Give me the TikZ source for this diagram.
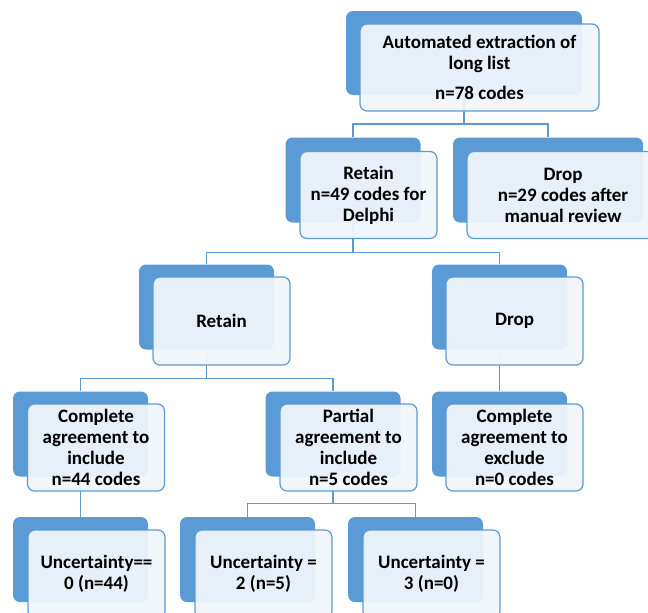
\documentclass[tikz,border=0pt]{standalone}
\usepackage{fontspec}
\setmainfont{Carlito}
\usetikzlibrary{backgrounds}
\definecolor{boxblue}{RGB}{91,155,213}
\definecolor{boxpale}{RGB}{240,245,251}

\begin{document}
\begin{tikzpicture}[x=1pt,y=-1pt,
        back/.style={fill=boxblue,rounded corners=7pt,minimum width=135pt,minimum height=85pt,inner sep=0pt},
        front/.style={draw=boxblue,line width=1.2pt,fill=boxpale,fill opacity=0.94,text opacity=1,rounded corners=7pt,
            minimum width=137pt,minimum height=87pt,inner sep=0pt,align=center,font=\fontsize{19}{21}\selectfont\bfseries},
        link/.style={draw=boxblue,line width=1.5pt}]
        \useasboundingbox (0,0) rectangle (648,613);

        \node[back,minimum width=236pt,minimum height=84pt] (b1) at (464,53) {};
        \node[front,minimum width=239pt] (v1) at (479.5,67.5) {Automated extraction of\\long list\\[9pt]n=78 codes};

        \node[back] (b2) at (353,180) {};
        \node[front] (v2) at (368.5,195) {Retain\\n=49 codes for\\Delphi};
        \node[back,minimum width=190pt] (b3) at (548,180) {};
        \node[front,minimum width=192pt] (v3) at (563,195) {Drop\\n=29 codes after\\manual review};

        \node[back] (b4) at (206.5,307) {};
        \node[front,minimum height=88pt] (v4) at (221.5,321) {Retain};
        \node[back] (b5) at (499.5,307) {};
        \node[front,minimum height=88pt] (v5) at (514.5,321) {Drop};

        \node[back] (b6) at (80.5,434) {};
        \node[front] (v6) at (96,447.5) {Complete\\agreement to\\include\\n=44 codes};
        \node[back] (b7) at (333,434) {};
        \node[front] (v7) at (348.5,447.5) {Partial\\agreement to\\include\\n=5 codes};
        \node[back] (b8) at (499.5,434) {};
        \node[front] (v8) at (514.5,447.5) {Complete\\agreement to\\exclude\\n=0 codes};

        \node[back] (b9) at (80.5,559.5) {};
        \node[front,minimum height=88pt] (v9) at (96.5,574) {Uncertainty==\\0 (n=44)};
        \node[back] (b10) at (247.5,559.5) {};
        \node[front,minimum height=88pt] (v10) at (263.5,574) {Uncertainty =\\2 (n=5)};
        \node[back] (b11) at (415.5,559.5) {};
        \node[front,minimum height=88pt] (v11) at (431.5,574) {Uncertainty =\\3 (n=0)};

        \begin{pgfonlayer}{background}
            \draw[link] (b1.south) -- ++(0,29) -| (b2.north);
            \draw[link] (b1.south) -- ++(0,29) -| (b3.north);
            \draw[link] (b2.south) -- ++(0,30) -| (b4.north);
            \draw[link] (b2.south) -- ++(0,30) -| (b5.north);
            \draw[link] (b4.south) -- ++(0,29) -| (b6.north);
            \draw[link] (b4.south) -- ++(0,29) -| (b7.north);
            \draw[link] (b5.south) -- (b8.north);
            \draw[link] (b6.south) -- (b9.north);
            \draw[link] (b7.south) -- ++(0,27) -| (b10.north);
            \draw[link] (b7.south) -- ++(0,27) -| (b11.north);
        \end{pgfonlayer}
    \end{tikzpicture}
\end{document}
